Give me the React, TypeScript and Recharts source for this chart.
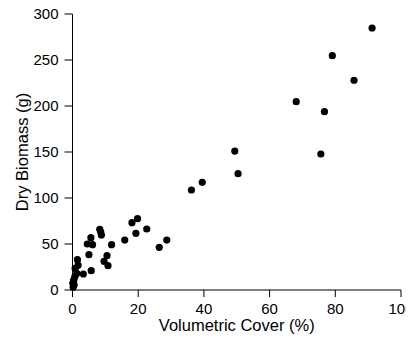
import React from 'react';
import { ScatterChart, Scatter, XAxis, YAxis, Label } from 'recharts';

// volumetric cover (%) and dry biomass (g), one entry per plant
const coverPct = [
  91.2, 79.1, 85.7, 68.1, 76.7, 49.4, 75.6, 50.4, 39.5, 36.2,
  19.8, 18.1, 19.3, 22.6, 15.9, 11.9, 8.3, 8.6, 8.8, 5.6,
  4.5, 6.1, 5.0, 10.5, 9.6, 10.8, 5.7, 3.3, 1.5, 1.7,
  0.8, 1.3, 0.7, 0.3, 0.5, 0.1, 0.4, 26.4, 28.7, 0.2,
];
const biomassG = [
  284.8, 254.7, 228, 204.7, 193.8, 151, 147.8, 126.4, 117, 108.7,
  77.5, 73.2, 61.6, 66.3, 54.3, 49.3, 66, 63, 59.8, 56.9,
  50, 49.3, 38.4, 37.3, 31.2, 26.4, 21, 17.4, 33, 27,
  23.5, 18, 14.5, 9, 5.4, 7.3, 11, 46.4, 54.3, 3,
];
const xTicks = [0, 20, 40, 60, 80, 100];
const yTicks = [0, 50, 100, 150, 200, 250, 300];

const points = coverPct.map((x, i) => ({ x, y: biomassG[i] }));

const font = 'Liberation Sans, Arial, sans-serif';

const Dot = (props: any) => <circle cx={props.cx} cy={props.cy} r={3.6} fill="#000" />;

export default function App() {
  return (
    <div style={{ margin: -8, background: '#fff', width: 414, height: 350, overflow: 'hidden' }}>
      <ScatterChart width={414} height={350} margin={{ top: 14, right: 13, bottom: 0, left: 22 }}>
        <XAxis
          type="number"
          dataKey="x"
          domain={[0, 100]}
          ticks={xTicks}
          height={60}
          stroke="#000"
          tickSize={7}
          tick={{ fill: '#000', fontSize: 15, fontFamily: font }}
          tickMargin={6}
        >
          <Label value="Volumetric Cover (%)" position="insideBottom" offset={19} fill="#000" fontSize={16.5} fontFamily={font} />
        </XAxis>
        <YAxis
          type="number"
          dataKey="y"
          domain={[0, 300]}
          ticks={yTicks}
          width={50.5}
          stroke="#000"
          tickSize={8}
          tick={{ fill: '#000', fontSize: 15, fontFamily: font }}
          tickMargin={6}
        >
          <Label value="Dry Biomass (g)" angle={-90} position="insideLeft" offset={0} style={{ textAnchor: 'middle' }} fill="#000" fontSize={16.5} fontFamily={font} />
        </YAxis>
        <Scatter data={points} shape={<Dot />} isAnimationActive={false} />
      </ScatterChart>
    </div>
  );
}
